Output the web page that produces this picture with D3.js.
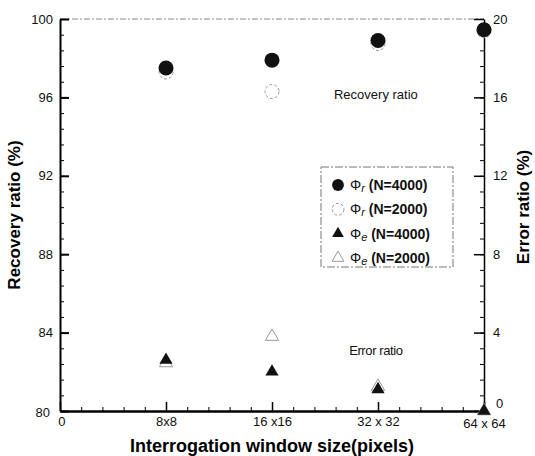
<!DOCTYPE html>
<html>
<head>
<meta charset="utf-8">
<script src="https://cdn.jsdelivr.net/npm/d3@7"></script>
<style>
  body { margin: 0; background: #fff; }
  svg { font-family: "Liberation Sans", Arial, sans-serif; }
  .axis path, .axis line { stroke: #000; }
  .axis text { font-size: 13px; fill: #111; }
</style>
</head>
<body>
<div id="chart"></div>
<script>
// categories on the x axis (index 0..4)
var windowSizes = ["0", "8x8", "16 x16", "32 x 32", "64 x 64"];
var pointIdx = [1, 2, 3, 4];

// recovery ratio (%), left axis
var recov4000 = [97.5, 97.9, 98.9, 99.45];
var recov2000 = [97.3, 96.3, 98.75, 99.4];
// error ratio (%), right axis
var err4000 = [2.6, 2.0, 1.1, 0.0];
var err2000 = [2.45, 3.8, 1.25, 0.0];

var leftTicks = [80, 84, 88, 92, 96, 100];
var rightTicks = [0, 4, 8, 12, 16, 20];

var legendLabels = [
  { sub: "r", rest: " (N=4000)", shape: "circle", filled: true },
  { sub: "r", rest: " (N=2000)", shape: "circle", filled: false },
  { sub: "e", rest: " (N=4000)", shape: "triangle", filled: true },
  { sub: "e", rest: " (N=2000)", shape: "triangle", filled: false }
];

var margin = { top: 19, right: 51, bottom: 45, left: 60 },
  width = 535 - margin.left - margin.right,
  height = 456 - margin.top - margin.bottom;

var svg = d3.select("#chart").append("svg")
  .attr("width", 535)
  .attr("height", 456)
  .append("g")
  .attr("transform", "translate(" + margin.left + "," + margin.top + ")");

var x = d3.scaleLinear().domain([0, 4]).range([0, width]);
var yL = d3.scaleLinear().domain([80, 100]).range([height, 0]);
var yR = d3.scaleLinear().domain([0, 20]).range([height, 0]);

// top frame line (faint, like the scan)
svg.append("line")
  .attr("x1", 0).attr("x2", width)
  .attr("y1", 0).attr("y2", 0)
  .attr("stroke", "#888").attr("stroke-width", 1)
  .attr("stroke-dasharray", "6,2,2,2");

// minor ticks
svg.append("g").attr("class", "axis")
  .call(d3.axisLeft(yL).tickValues(d3.range(80, 100.01, 0.8)).tickFormat("").tickSize(-4))
  .select(".domain").remove();
svg.append("g").attr("class", "axis")
  .attr("transform", "translate(" + width + ",0)")
  .call(d3.axisRight(yR).tickValues(d3.range(0, 20.01, 0.8)).tickFormat("").tickSize(-4))
  .select(".domain").remove();
svg.append("g").attr("class", "axis")
  .attr("transform", "translate(0," + height + ")")
  .call(d3.axisBottom(x).tickValues(d3.range(0, 4.01, 0.2)).tickFormat("").tickSize(-4))
  .select(".domain").remove();

// Left axis
var gL = svg.append("g").attr("class", "axis")
  .call(d3.axisLeft(yL).tickValues(leftTicks).tickSize(-9).tickPadding(7).tickSizeOuter(0));
gL.select(".domain").attr("stroke-width", 2);
gL.selectAll(".tick line").attr("stroke-width", 2);
gL.selectAll(".tick").filter(function (d) { return d == 80; })
  .select("text").attr("x", -10).attr("dy", "0.4em");

// Right axis
var gR = svg.append("g").attr("class", "axis")
  .attr("transform", "translate(" + width + ",0)")
  .call(d3.axisRight(yR).tickValues(rightTicks).tickSize(-10).tickPadding(9).tickSizeOuter(0));
gR.select(".domain").attr("stroke-width", 1.5);
gR.selectAll(".tick line").attr("stroke-width", 1.5);
gR.selectAll(".tick").filter(function (d) { return d == 0; })
  .select("text").attr("x", 12).attr("dy", "-0.3em");

// Bottom axis
var gB = svg.append("g").attr("class", "axis")
  .attr("transform", "translate(0," + height + ")")
  .call(d3.axisBottom(x).tickValues([0, 1, 2, 3, 4])
    .tickFormat(function (d) { return windowSizes[d]; })
    .tickSize(-9).tickPadding(6).tickSizeOuter(0));
gB.select(".domain").attr("stroke-width", 2.5);
gB.selectAll(".tick line").attr("stroke-width", 1.5);
gB.selectAll(".tick").filter(function (d) { return d == 0; }).select("text").attr("dx", "0.1em");
gB.selectAll(".tick").filter(function (d) { return d == 4; }).select("text").attr("dy", "0.85em");

var tri = d3.symbol().type(d3.symbolTriangle).size(75);

// open markers first, filled on top
svg.selectAll(".oc").data(pointIdx).enter().append("circle")
  .attr("cx", function (d) { return x(d); })
  .attr("cy", function (d, i) { return yL(recov2000[i]); })
  .attr("r", 7)
  .attr("fill", "#fff").attr("stroke", "#999").attr("stroke-width", 1)
  .attr("stroke-dasharray", "3,2");

svg.selectAll(".ot").data(pointIdx).enter().append("path")
  .attr("d", tri)
  .attr("transform", function (d, i) { return "translate(" + x(d) + "," + yR(err2000[i]) + ")"; })
  .attr("fill", "#fff").attr("stroke", "#999").attr("stroke-width", 1);

svg.selectAll(".fc").data(pointIdx).enter().append("circle")
  .attr("cx", function (d) { return x(d); })
  .attr("cy", function (d, i) { return yL(recov4000[i]); })
  .attr("r", 7.5)
  .attr("fill", "#111");

svg.selectAll(".ft").data(pointIdx).enter().append("path")
  .attr("d", tri)
  .attr("transform", function (d, i) { return "translate(" + x(d) + "," + yR(err4000[i]) + ")"; })
  .attr("fill", "#111");

// in-plot annotations
svg.append("text")
  .attr("x", x(2.98)).attr("y", yL(95.9))
  .attr("text-anchor", "middle").attr("font-size", 13).attr("fill", "#111")
  .text("Recovery ratio");
svg.append("text")
  .attr("x", x(2.98)).attr("y", yR(2.85))
  .attr("text-anchor", "middle").attr("font-size", 13).attr("fill", "#111")
  .attr("letter-spacing", "-0.4px")
  .text("Error ratio");

// Legend
var legend = svg.append("g").attr("transform", "translate(261,148)");
legend.append("rect")
  .attr("width", 132).attr("height", 100)
  .attr("fill", "#fff").attr("stroke", "#777").attr("stroke-width", 1)
  .attr("stroke-dasharray", "8,2,2,2");
var rows = legend.selectAll(".row").data(legendLabels).enter().append("g")
  .attr("transform", function (d, i) { return "translate(0," + (18 + i * 24.3) + ")"; });
rows.append("path")
  .attr("transform", "translate(17,0)")
  .attr("d", function (d) {
    return d.shape == "circle"
      ? d3.symbol().type(d3.symbolCircle).size(110)()
      : d3.symbol().type(d3.symbolTriangle).size(60)();
  })
  .attr("fill", function (d) { return d.filled ? "#111" : "#fff"; })
  .attr("stroke", function (d) { return d.filled ? "none" : "#999"; })
  .attr("stroke-dasharray", function (d) { return d.shape == "circle" ? "3,2" : null; });
var lt = rows.append("text")
  .attr("x", 29).attr("y", 5)
  .attr("font-size", 14).attr("font-weight", "bold").attr("fill", "#111");
lt.append("tspan").attr("font-weight", "normal").text("\u03A6");
lt.append("tspan").attr("font-style", "italic").attr("font-weight", "normal")
  .attr("font-size", 11).attr("dy", 2).text(function (d) { return d.sub; });
lt.append("tspan").attr("dy", -2).text(function (d) { return d.rest; });

// Axis titles
svg.append("text")
  .attr("transform", "rotate(-90)")
  .attr("x", -height / 2).attr("y", -40)
  .attr("text-anchor", "middle")
  .attr("font-size", 17).attr("font-weight", "bold")
  .text("Recovery ratio (%)");

svg.append("text")
  .attr("transform", "rotate(-90)")
  .attr("x", -188).attr("y", width + 45)
  .attr("text-anchor", "middle")
  .attr("font-size", 17).attr("font-weight", "bold")
  .text("Error ratio (%)");

svg.append("text")
  .attr("x", x(2.0)).attr("y", height + 41)
  .attr("text-anchor", "middle")
  .attr("font-size", 18).attr("font-weight", "bold")
  .text("Interrogation window size(pixels)");
</script>
</body>
</html>
